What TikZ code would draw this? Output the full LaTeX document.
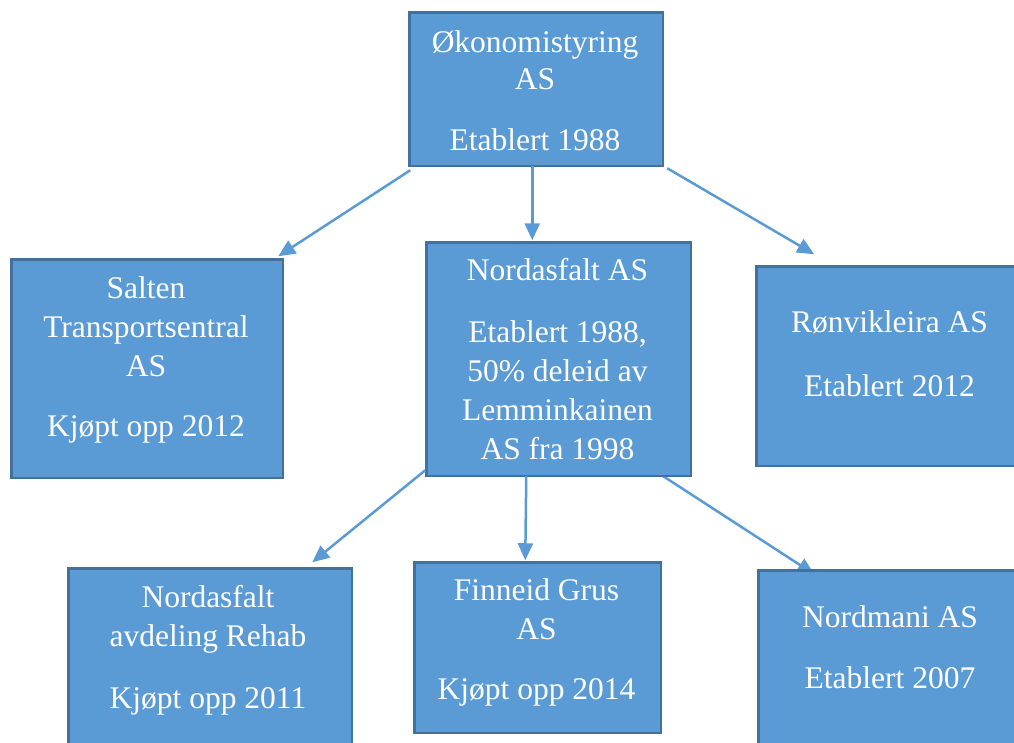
\documentclass[tikz,border=0pt]{standalone}
\usepackage{fontspec}
\setmainfont{Liberation Serif}
\usetikzlibrary{arrows.meta}
\definecolor{boxfill}{HTML}{5B9BD5}
\definecolor{boxborder}{HTML}{41719C}
\pgfdeclarelayer{bg}
\pgfsetlayers{bg,main}
\tikzset{
  orgbox/.style={draw=boxborder, fill=boxfill, line width=2.5pt, inner sep=0pt, anchor=north west},
  orgtext/.style={text=white, inner sep=0pt, anchor=base, font=\fontsize{31.5}{39}\selectfont},
  conn/.style={draw=boxfill, line width=2.5pt, -{Triangle[length=17pt,width=15pt]}}
}
\begin{document}
\begin{tikzpicture}[x=1pt,y=-1pt]
\useasboundingbox (0,0) rectangle (1014,742);
\clip (0,0) rectangle (1014,742);
% boxes
\node[orgbox, minimum width=253.5pt, minimum height=153.5pt] (top) at (408.25,11.25) {};
\node[orgbox, minimum width=271.5pt, minimum height=218.5pt] (salten) at (10.25,258.25) {};
\node[orgbox, minimum width=264.5pt, minimum height=233.5pt] (nord) at (425.25,241.25) {};
\node[orgbox, minimum width=269.5pt, minimum height=199.5pt] (ronv) at (755.25,265.25) {};
\node[orgbox, minimum width=283.5pt, minimum height=200pt] (rehab) at (67.25,567.25) {};
\node[orgbox, minimum width=246.5pt, minimum height=170.5pt] (finn) at (413.25,561.25) {};
\node[orgbox, minimum width=267.5pt, minimum height=200pt] (nordm) at (757.25,569.25) {};
% texts
\node[orgtext] (ttop) at (535,52) {\begin{tabular}[t]{@{}c@{}}Økonomistyring\\[-2pt] AS\\[22pt] Etablert 1988\end{tabular}};
\node[orgtext] (tsalten) at (146,298) {\begin{tabular}[t]{@{}c@{}}Salten\\ Transportsentral\\ AS\\[21pt] Kjøpt opp 2012\end{tabular}};
\node[orgtext] (tnord) at (557.5,280) {\begin{tabular}[t]{@{}c@{}}Nordasfalt AS\\[23pt] Etablert 1988,\\ 50\% deleid av\\ Lemminkainen\\ AS fra 1998\end{tabular}};
\node[orgtext] (tronv) at (889.5,332) {\begin{tabular}[t]{@{}c@{}}Rønvikleira AS\\[25pt] Etablert 2012\end{tabular}};
\node[orgtext] (trehab) at (208,607) {\begin{tabular}[t]{@{}c@{}}Nordasfalt\\ avdeling Rehab\\[23pt] Kjøpt opp 2011\end{tabular}};
\node[orgtext] (tfinn) at (536.5,600) {\begin{tabular}[t]{@{}c@{}}Finneid Grus\\ AS\\[21pt] Kjøpt opp 2014\end{tabular}};
\node[orgtext] (tnordm) at (890,627) {\begin{tabular}[t]{@{}c@{}}Nordmani AS\\[22pt] Etablert 2007\end{tabular}};
% connectors
\draw[conn] ([shift={(2,3)}]top.south west) -- ([shift={(-6,-2)}]salten.north east);
\draw[conn] ([shift={(-4,-1)}]top.south) -- ([shift={(-26.5,-1)}]nord.north);
\draw[conn] ([shift={(3,1)}]top.south east) -- ([shift={(59,-11)}]ronv.north west);
\draw[conn] ([shift={(0,-7)}]nord.south west) -- ([shift={(-41,-5)}]rehab.north east);
\draw[conn] ([shift={(-32.5,-1)}]nord.south) -- ([shift={(-12.5,-1)}]finn.north);
\begin{pgfonlayer}{bg}
\draw[conn] ([shift={(-32,-3)}]nord.south east) -- ([shift={(57,5)}]nordm.north west);
\end{pgfonlayer}
\end{tikzpicture}
\end{document}
